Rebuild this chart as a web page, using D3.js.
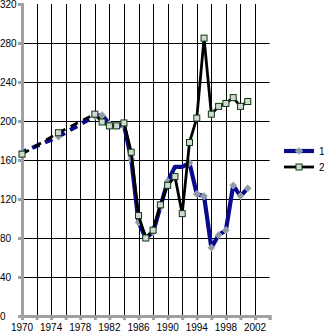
<!DOCTYPE html>
<html><head><meta charset="utf-8">
<script src="https://cdn.jsdelivr.net/npm/d3@7"></script>
<style>body{margin:0;background:#fff}svg{display:block}</style>
</head><body>
<svg id="c" width="324" height="334"></svg>
<script>
const years = [1970,1975,1980,1981,1982,1983,1984,1985,1986,1987,1988,1989,1990,1991,1992,1993,1994,1995,1996,1997,1998,1999,2000,2001];
const series1 = [168,184,205,206,197,195,196,161,96,80,86,112,138,153,153,157,125,123,70,83,88,134,123,131];
const series2 = [166,188,207,199,195,195,198,168,103,80,88,114,134,143,105,178,203,285,207,215,218,224,215,220];
const dashedUntil = 1980;           // segments before this year are drawn dashed
const series1NoMarker = [1991,1992];
const yTicks = [0,40,80,120,160,200,240,280,320];
const xTickYears = d3.range(1970,2005,2);
const xLabelYears = [1970,1974,1978,1982,1986,1990,1994,1998,2002];
const legendNames = ["1","2"];

const svg = d3.select("#c");
const x = d3.scaleLinear().domain([1970,2004]).range([22,269.6]);
const y = d3.scaleLinear().domain([0,320]).range([316,4]);
const fontFam = "Liberation Sans, Arial, sans-serif";

// grid
const g = svg.append("g");
g.selectAll(".hg").data(yTicks.filter(v=>v>0 && v<320)).join("line")
  .attr("x1",x(1970)).attr("x2",x(2004)).attr("y1",d=>Math.round(y(d))+0.5).attr("y2",d=>Math.round(y(d))+0.5)
  .attr("stroke","#000").attr("stroke-width",1);
g.selectAll(".vg").data(xTickYears.filter(v=>v>1970 && v<2004)).join("line")
  .attr("y1",y(0)).attr("y2",y(320)).attr("x1",d=>Math.round(x(d))+0.5).attr("x2",d=>Math.round(x(d))+0.5)
  .attr("stroke","#000").attr("stroke-width",1);

// axes
const axisCol = "#a0a0a0";
const yAx = svg.append("g").attr("transform",`translate(${x(1970)},0)`)
  .call(d3.axisLeft(y).tickValues(yTicks).tickSize(4).tickFormat(""));
const xAx = svg.append("g").attr("transform",`translate(0,${y(0)})`)
  .call(d3.axisBottom(x).tickValues(xTickYears).tickSize(4).tickFormat(""));
[yAx,xAx].forEach(a=>{
  a.select(".domain").attr("stroke",axisCol).attr("stroke-width",3);
  a.selectAll(".tick line").attr("stroke",axisCol).attr("stroke-width",3);
});
svg.selectAll(".ylab").data(yTicks).join("text")
  .attr("x",0).attr("y",d=>y(d)+3.5).attr("text-anchor","start")
  .attr("font-family",fontFam).attr("font-size",10).attr("fill","#000").text(d=>d);
svg.selectAll(".xlab").data(xLabelYears).join("text")
  .attr("x",d=>x(d)).attr("y",331).attr("text-anchor","middle")
  .attr("font-family",fontFam).attr("font-size",10).attr("fill","#000").text(d=>d);

function drawSeries(vals,color,width,offset){
  const pts = years.map((yr,i)=>[yr,vals[i]]);
  const line = d3.line().x(d=>x(d[0])).y(d=>y(d[1]));
  const dashed = pts.filter(p=>p[0]<=dashedUntil);
  const solid = pts.filter(p=>p[0]>=dashedUntil);
  svg.append("path").attr("d",line(dashed)).attr("fill","none").attr("stroke",color)
    .attr("stroke-width",width).attr("stroke-dasharray","8,6").attr("stroke-dashoffset",offset);
  svg.append("path").attr("d",line(solid)).attr("fill","none").attr("stroke",color)
    .attr("stroke-width",width).attr("stroke-linejoin","round");
}
const c1 = "#0a0a8c", c2 = "#000";
drawSeries(series1,c1,4.2,3);
const diamond = (cx,cy,r)=>`M${cx},${cy-r}L${cx+r},${cy}L${cx},${cy+r}L${cx-r},${cy}Z`;
svg.selectAll(".m1").data(years.map((yr,i)=>[yr,series1[i]]).filter(d=>!series1NoMarker.includes(d[0]))).join("path")
  .attr("d",d=>diamond(x(d[0]),y(d[1]),3.6)).attr("fill","#8d9aa2").attr("stroke","#b8c0c4").attr("stroke-width",0.8);
drawSeries(series2,c2,2.8,0);
svg.selectAll(".m2").data(years.map((yr,i)=>[yr,series2[i]])).join("rect")
  .attr("x",d=>x(d[0])-3).attr("y",d=>y(d[1])-3).attr("width",6).attr("height",6)
  .attr("fill","#d2d9d2").attr("stroke","#0e3a0e").attr("stroke-width",1);

// legend
const lg = svg.append("g");
const ly = [151,167];
lg.append("line").attr("x1",284).attr("x2",314).attr("y1",ly[0]).attr("y2",ly[0]).attr("stroke",c1).attr("stroke-width",4.2);
lg.append("path").attr("d",diamond(299,ly[0],3.6)).attr("fill","#8d9aa2").attr("stroke","#b8c0c4").attr("stroke-width",0.8);
lg.append("line").attr("x1",284).attr("x2",314).attr("y1",ly[1]).attr("y2",ly[1]).attr("stroke",c2).attr("stroke-width",2.8);
lg.append("rect").attr("x",296).attr("y",ly[1]-3).attr("width",6).attr("height",6).attr("fill","#d2d9d2").attr("stroke","#0e3a0e");
lg.selectAll("text").data(legendNames).join("text").attr("x",319).attr("y",(d,i)=>ly[i]+3.5)
  .attr("font-family",fontFam).attr("font-size",10).text(d=>d);
</script>
</body></html>
